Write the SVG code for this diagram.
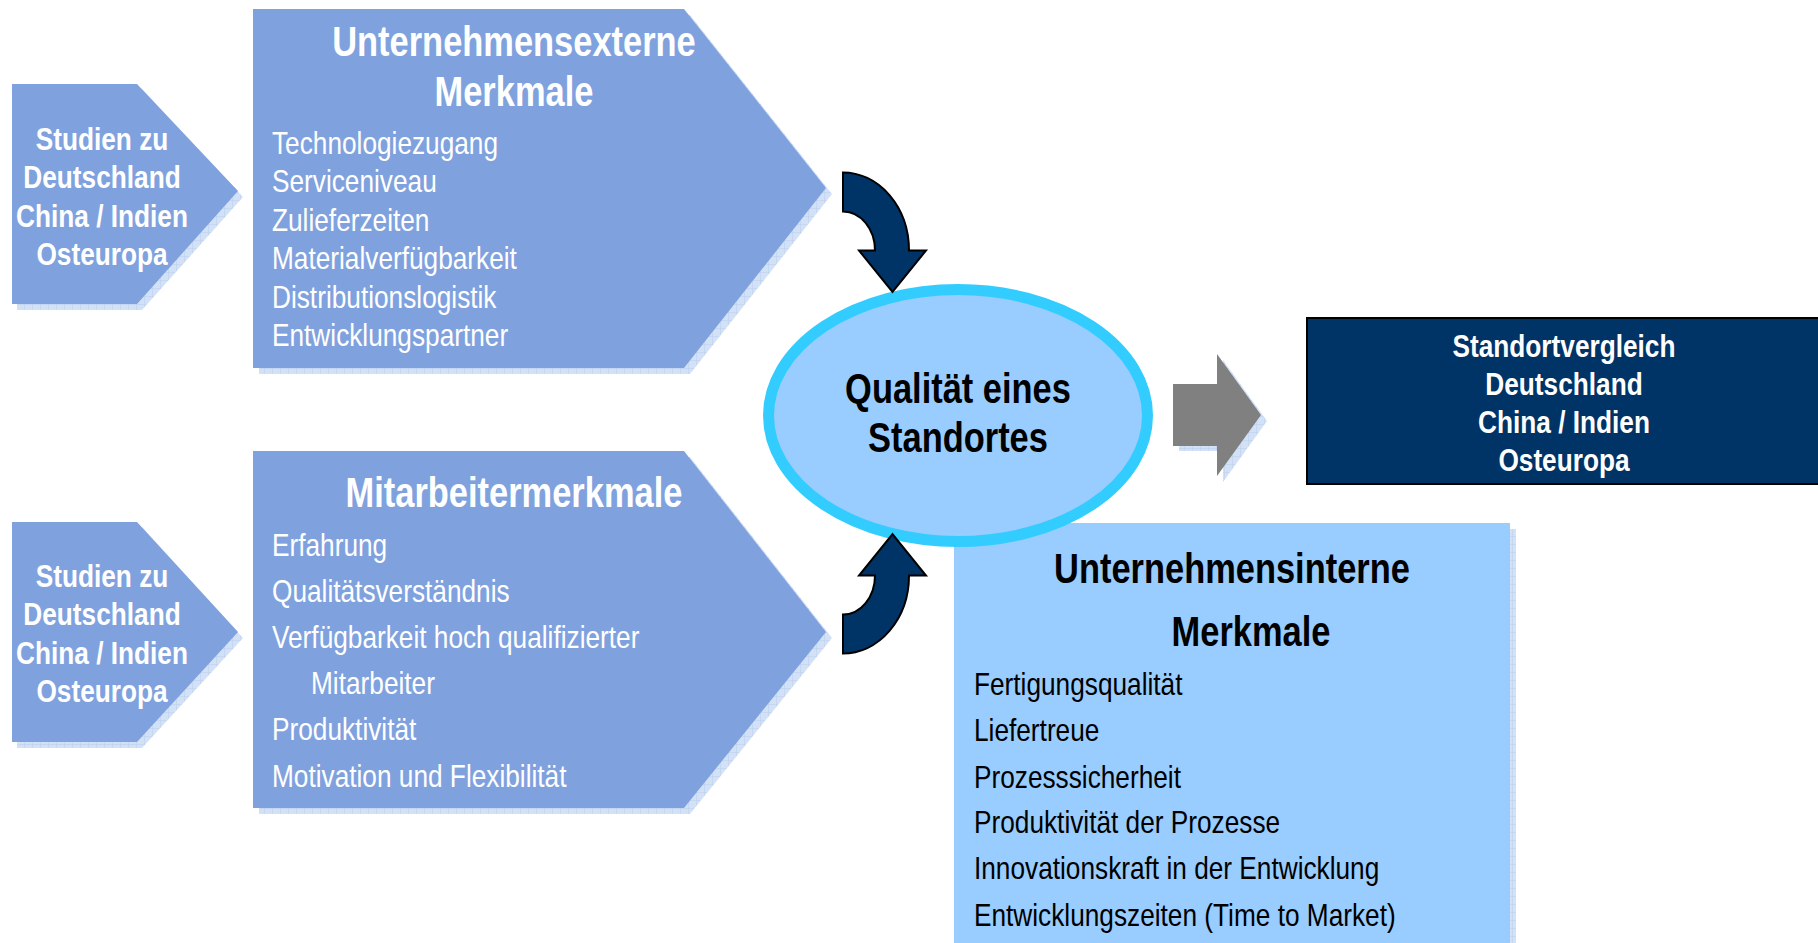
<svg xmlns="http://www.w3.org/2000/svg" width="1818" height="943" viewBox="0 0 1818 943">
  <defs>
    <pattern id="hatch" width="8" height="8" patternUnits="userSpaceOnUse">
      <rect width="8" height="8" fill="#D3E1F6"/>
      <path d="M0,0 H8 M0,0 V8" stroke="#B9CDEE" stroke-width="1"/>
    </pattern>
    <path id="curved" d="M843,172.5 A66,78 0 0 1 909,250.5 L926,250.5 L892.5,292 L859,250.5 L875,250.5 A32,39 0 0 0 843,211.5 Z"/>
  </defs>
  <style>
    .chev { fill: #7FA2DE; }
    .shadow { fill: url(#hatch); }
    .t { font-family: "Liberation Sans", Arial, sans-serif; }
    .w { fill: #FFFFFF; }
    .k { fill: #000000; }
    .b { font-weight: bold; }
    .c { text-anchor: middle; }
    .s32 { font-size: 32px; }
    .s42 { font-size: 42px; }
    .navy { fill: #003366; stroke: #000000; stroke-width: 2; }
  </style>

  <rect width="1818" height="943" fill="#FFFFFF"/>

  <!-- studies, top -->
  <g id="studien-oben">
    <polygon class="shadow" points="17,89 142,89 243,197 142,310 17,310"/>
    <polygon class="chev" points="12,84 137,84 238,191 137,304 12,304"/>
    <g transform="scale(0.82,1)">
      <text class="t w b c s32" x="124.4" y="150">Studien zu</text>
      <text class="t w b c s32" x="124.4" y="188">Deutschland</text>
      <text class="t w b c s32" x="124.4" y="227">China / Indien</text>
      <text class="t w b c s32" x="124.4" y="265">Osteuropa</text>
    </g>
  </g>

  <!-- studies, bottom -->
  <g id="studien-unten">
    <polygon class="shadow" points="17,527 142,527 243,638 142,748 17,748"/>
    <polygon class="chev" points="12,522 137,522 238,632 137,742 12,742"/>
    <g transform="scale(0.82,1)">
      <text class="t w b c s32" x="124.4" y="587">Studien zu</text>
      <text class="t w b c s32" x="124.4" y="625">Deutschland</text>
      <text class="t w b c s32" x="124.4" y="664">China / Indien</text>
      <text class="t w b c s32" x="124.4" y="702">Osteuropa</text>
    </g>
  </g>

  <!-- external characteristics -->
  <g id="externe-merkmale">
    <polygon class="shadow" points="259,15 690,15 832,194 690,374 259,374"/>
    <polygon class="chev" points="253,9 684,9 826,188 684,368 253,368"/>
    <g transform="scale(0.82,1)">
      <text class="t w b c s42" x="626.8" y="56">Unternehmensexterne</text>
      <text class="t w b c s42" x="626.8" y="106">Merkmale</text>
      <text class="t w s32" x="331.7" y="154">Technologiezugang</text>
      <text class="t w s32" x="331.7" y="192.5">Serviceniveau</text>
      <text class="t w s32" x="331.7" y="231">Zulieferzeiten</text>
      <text class="t w s32" x="331.7" y="269.5">Materialverfügbarkeit</text>
      <text class="t w s32" x="331.7" y="308">Distributionslogistik</text>
      <text class="t w s32" x="331.7" y="346.5">Entwicklungspartner</text>
    </g>
  </g>

  <!-- employee characteristics -->
  <g id="mitarbeitermerkmale">
    <polygon class="shadow" points="259,457 690,457 832,638 690,814 259,814"/>
    <polygon class="chev" points="253,451 684,451 826,632 684,808 253,808"/>
    <g transform="scale(0.82,1)">
      <text class="t w b c s42" x="626.8" y="507">Mitarbeitermerkmale</text>
      <text class="t w s32" x="331.7" y="556">Erfahrung</text>
      <text class="t w s32" x="331.7" y="602">Qualitätsverständnis</text>
      <text class="t w s32" x="331.7" y="648.5">Verfügbarkeit hoch qualifizierter</text>
      <text class="t w s32" x="379.3" y="694.5">Mitarbeiter</text>
      <text class="t w s32" x="331.7" y="740.5">Produktivität</text>
      <text class="t w s32" x="331.7" y="787">Motivation und Flexibilität</text>
    </g>
  </g>

  <!-- internal characteristics -->
  <g id="interne-merkmale">
    <rect x="960" y="529" width="556" height="420" fill="url(#hatch)"/>
    <rect x="954" y="523" width="556" height="430" fill="#99CCFF"/>
    <g transform="scale(0.82,1)">
      <text class="t k b c s42" x="1502.4" y="583.5">Unternehmensinterne</text>
      <text class="t k b c s42" x="1525.6" y="646.5">Merkmale</text>
      <text class="t k s32" x="1187.8" y="695">Fertigungsqualität</text>
      <text class="t k s32" x="1187.8" y="741.5">Liefertreue</text>
      <text class="t k s32" x="1187.8" y="788">Prozesssicherheit</text>
      <text class="t k s32" x="1187.8" y="833">Produktivität der Prozesse</text>
      <text class="t k s32" x="1187.8" y="879.5">Innovationskraft in der Entwicklung</text>
      <text class="t k s32" x="1187.8" y="926">Entwicklungszeiten (Time to Market)</text>
    </g>
  </g>

  <!-- location quality -->
  <g id="qualitaet">
    <ellipse cx="958" cy="415.5" rx="189.5" ry="126" fill="#99CCFF" stroke="#33CCFF" stroke-width="11"/>
    <g transform="scale(0.82,1)">
      <text class="t k b c s42" x="1168.3" y="403">Qualität eines</text>
      <text class="t k b c s42" x="1168.3" y="452.5">Standortes</text>
    </g>
  </g>

  <!-- location comparison -->
  <g id="standortvergleich">
    <rect x="1307" y="318" width="520" height="166" class="navy"/>
    <g transform="scale(0.82,1)">
      <text class="t w b c s32" x="1907.3" y="357">Standortvergleich</text>
      <text class="t w b c s32" x="1907.3" y="395">Deutschland</text>
      <text class="t w b c s32" x="1907.3" y="433">China / Indien</text>
      <text class="t w b c s32" x="1907.3" y="471">Osteuropa</text>
    </g>
  </g>

  <!-- connectors -->
  <g id="verbindungen">
    <use href="#curved" class="navy"/>
    <use href="#curved" class="navy" transform="translate(0,826) scale(1,-1)"/>
    <polygon class="shadow" points="1179,389 1223,389 1223,360 1267,421 1223,482 1223,451 1179,451"/>
    <polygon fill="#808080" points="1173,384 1217,384 1217,354 1261,415 1217,476 1217,446 1173,446"/>
  </g>
</svg>
